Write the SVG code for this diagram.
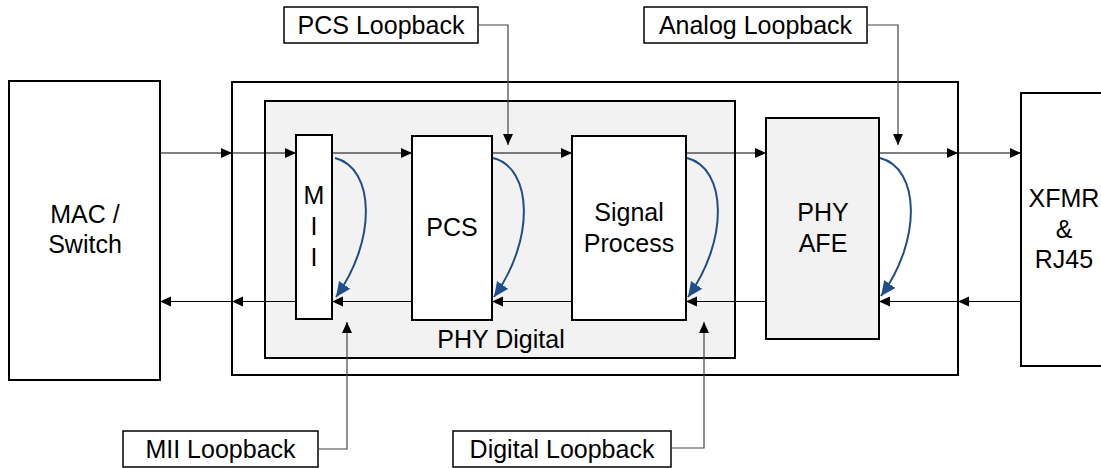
<svg xmlns="http://www.w3.org/2000/svg" width="1101" height="468" viewBox="0 0 1101 468">
<style>
.box{fill:#ffffff;stroke:#000;stroke-width:2}
.grey{fill:#f2f2f2;stroke:#000;stroke-width:2}
.lbl{fill:#ffffff;stroke:#000;stroke-width:1.5}
text{font-family:"Liberation Sans",Arial,sans-serif;font-size:25px;fill:#000;text-anchor:middle}
.ln{fill:none;stroke:#000;stroke-width:1.2;marker-end:url(#ah)}
.cl{fill:none;stroke:#444;stroke-width:1.2;marker-end:url(#ah)}
.lb{fill:none;stroke:#1f4e89;stroke-width:2;marker-end:url(#bh)}
</style>
<defs>
<marker id="ah" markerUnits="userSpaceOnUse" markerWidth="12" markerHeight="12" refX="11" refY="5" orient="auto" viewBox="0 0 12 10">
<path d="M0,0 L11,5 L0,10 Z" fill="#000"/>
</marker>
<marker id="bh" markerUnits="userSpaceOnUse" markerWidth="16" markerHeight="14" refX="13" refY="6" orient="auto" viewBox="0 0 14 12">
<path d="M0,0 L13,6 L0,12 Z" fill="#1f4e89"/>
</marker>
</defs>
<rect width="1101" height="468" fill="#fff"/>
<g id="mac"><rect class="box" x="9" y="81" width="151" height="299"/><text x="85" y="223">MAC /</text><text x="85" y="253">Switch</text></g>
<g id="phy"><rect class="box" x="232" y="82" width="726" height="293"/></g>
<g id="phydigital"><rect class="grey" x="265" y="101" width="470" height="257"/><text x="501" y="348">PHY Digital</text></g>
<g id="mii"><rect class="box" x="296" y="135" width="36" height="184"/><text x="314" y="204">M</text><text x="314" y="235">I</text><text x="314" y="266">I</text></g>
<g id="pcs"><rect class="box" x="412" y="136" width="80" height="184"/><text x="452" y="236">PCS</text></g>
<g id="sp"><rect class="box" x="572" y="136" width="114" height="184"/><text x="629" y="221">Signal</text><text x="629" y="252">Process</text></g>
<g id="afe"><rect class="grey" x="766" y="118" width="113" height="221"/><text x="823" y="221">PHY</text><text x="823" y="252">AFE</text></g>
<g id="xfmr"><rect class="box" x="1021" y="93" width="90" height="273"/><text x="1064" y="207">XFMR</text><text x="1064" y="238">&amp;</text><text x="1064" y="268">RJ45</text></g>
<g id="lbl-pcs"><rect class="lbl" x="284" y="7" width="194" height="36"/><text x="381" y="34">PCS Loopback</text></g>
<g id="lbl-analog"><rect class="lbl" x="644" y="7" width="223" height="36"/><text x="755.5" y="34">Analog Loopback</text></g>
<g id="lbl-mii"><rect class="lbl" x="123" y="431" width="195" height="36"/><text x="220.5" y="458">MII Loopback</text></g>
<g id="lbl-digital"><rect class="lbl" x="453" y="431" width="218" height="36"/><text x="562" y="458">Digital Loopback</text></g>
<g id="connectors">
<path class="ln" d="M160,153 H232"/>
<path class="ln" d="M232,153 H296"/>
<path class="ln" d="M332,153 H412"/>
<path class="ln" d="M492,153 H572"/>
<path class="ln" d="M686,153 H766"/>
<path class="ln" d="M879,153 H958"/>
<path class="ln" d="M958,153 H1021"/>
<path class="ln" d="M1021,301.5 H958"/>
<path class="ln" d="M958,301.5 H879"/>
<path class="ln" d="M766,301.5 H686"/>
<path class="ln" d="M572,301.5 H492"/>
<path class="ln" d="M412,301.5 H332"/>
<path class="ln" d="M296,301.5 H232"/>
<path class="ln" d="M232,301.5 H160"/>
<path class="cl" d="M478,25 H508 V145"/>
<path class="cl" d="M867,25 H898 V145"/>
<path class="cl" d="M318,449 H347 V322"/>
<path class="cl" d="M671,448 H704 V322"/>
<path class="lb" d="M335,158 C375,168 377,240 336,297"/>
<path class="lb" d="M493,158 C533,168 535,240 494,297"/>
<path class="lb" d="M687,158 C727,168 729,240 688,297"/>
<path class="lb" d="M880,158 C920,168 922,240 881,296"/>
</g>
</svg>
